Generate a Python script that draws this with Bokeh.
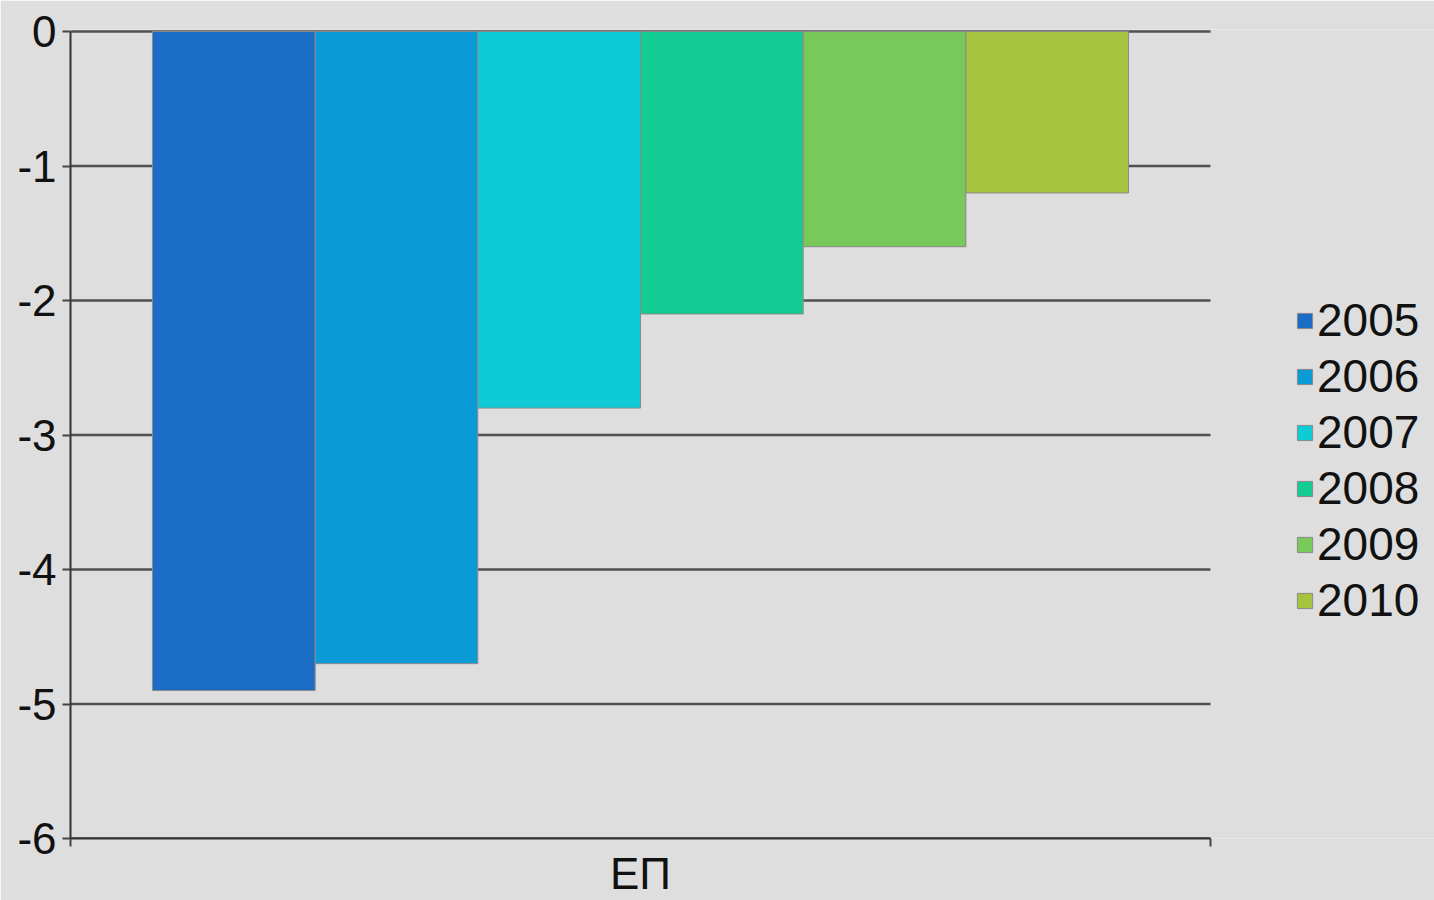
from bokeh.plotting import figure
from bokeh.models import Range1d, FixedTicker, Legend, LegendItem
from bokeh.embed import file_html
from bokeh.resources import INLINE

categories = ["ΕΠ"]
years = ["2005", "2006", "2007", "2008", "2009", "2010"]
values = [-4.9, -4.7, -2.8, -2.1, -1.6, -1.2]
y_ticks = [0, -1, -2, -3, -4, -5, -6]
palette = ["#1a6cc4", "#0a9bd6", "#0ecbd6", "#12cc94", "#78c85a", "#a6c33f"]

BG = "#dedede"
FONT = "Liberation Sans"
W, H = 1434, 900
LEFT, TOP, BOTTOM = 70, 29, 60
PLOT_RIGHT = 1210  # where the category band ends

# category band spans data 0..1; extra room to the right holds the legend
x_end = (W - LEFT) / (PLOT_RIGHT - LEFT)
p = figure(width=W, height=H, output_backend="svg", toolbar_location=None,
           x_range=Range1d(0, x_end), y_range=Range1d(-6, 0.015),
           min_border_left=LEFT, min_border_right=0, min_border_top=TOP,
           min_border_bottom=BOTTOM)
p.background_fill_color = BG
p.border_fill_color = BG
p.outline_line_color = None
p.xgrid.grid_line_color = None
p.ygrid.grid_line_color = None

# horizontal gridlines across the category band
p.segment(x0=[0] * len(y_ticks), x1=[1] * len(y_ticks), y0=y_ticks, y1=y_ticks,
          line_color="#505050", line_width=2.5)

step = 0.1427
items = []
for i, (yr, v, c) in enumerate(zip(years, values, palette)):
    xc = 0.5 + (i - (len(years) - 1) / 2) * step
    r = p.vbar(x=[xc], top=[0], bottom=[v], width=step,
               fill_color=c, line_color="#8a8a8a", line_width=1)
    items.append(LegendItem(label=yr, renderers=[r]))

legend = Legend(items=items, location=(1221, 207))
legend.margin = 0
legend.background_fill_alpha = 0
legend.border_line_alpha = 0
legend.glyph_width = 19
legend.glyph_height = 19
legend.label_standoff = 3
legend.spacing = 2
legend.padding = 4
legend.label_text_font = FONT
legend.label_text_font_size = "46px"
legend.label_text_color = "#111111"
p.add_layout(legend, "center")

p.yaxis.ticker = FixedTicker(ticks=y_ticks)
p.yaxis.bounds = (-6, 0)
p.yaxis.major_label_overrides = {t: str(t) for t in y_ticks}
p.yaxis.axis_line_color = "#333333"
p.yaxis.axis_line_width = 2
p.yaxis.major_tick_line_color = "#444444"
p.yaxis.major_tick_line_width = 2
p.yaxis.major_tick_out = 8
p.yaxis.major_tick_in = 0
p.yaxis.minor_tick_line_color = None
p.yaxis.major_label_standoff = 6
p.yaxis.major_label_text_font = FONT
p.yaxis.major_label_text_font_size = "44px"
p.yaxis.major_label_text_color = "#111111"

p.xaxis.ticker = FixedTicker(ticks=[0.5], minor_ticks=[0, 1])
p.xaxis.bounds = (0, 1)
p.xaxis.major_label_overrides = {0.5: categories[0]}
p.xaxis.axis_line_color = "#333333"
p.xaxis.axis_line_width = 2
p.xaxis.major_tick_line_color = None
p.xaxis.major_tick_out = 0
p.xaxis.major_tick_in = 0
p.xaxis.minor_tick_line_color = "#444444"
p.xaxis.minor_tick_line_width = 2
p.xaxis.minor_tick_out = 8
p.xaxis.minor_tick_in = 0
p.xaxis.major_label_standoff = 2
p.xaxis.major_label_text_font = FONT
p.xaxis.major_label_text_font_size = "44px"
p.xaxis.major_label_text_color = "#111111"

open("out.html", "w").write(file_html(p, INLINE))
